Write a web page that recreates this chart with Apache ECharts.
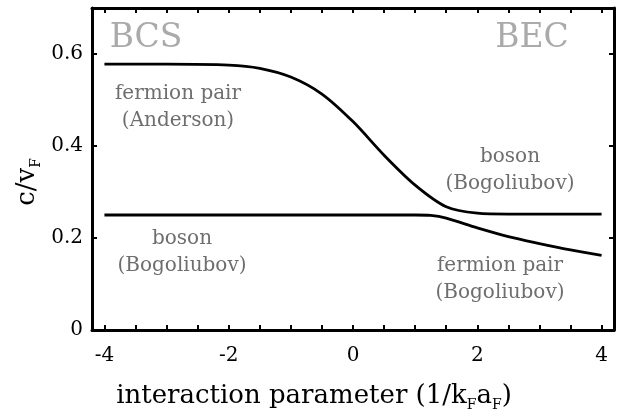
<!DOCTYPE html>
<html>
<head>
<meta charset="utf-8">
<script src="https://cdn.jsdelivr.net/npm/echarts@6/dist/echarts.min.js"></script>
<style>
  html, body { margin: 0; padding: 0; background: #fff; }
  #chart { width: 634px; height: 418px; }
</style>
</head>
<body>
<div id="chart"></div>
<script>
// upper branch: fermion pair (Anderson) -> boson (Bogoliubov)
const upperX = [-4, -3, -2, -1.5, -1, -0.5, 0, 0.5, 1, 1.5, 2, 2.5, 3, 4];
const upperY = [0.578, 0.578, 0.576, 0.569, 0.55, 0.513, 0.453, 0.38, 0.315, 0.268, 0.254, 0.252, 0.252, 0.252];
// lower branch: boson (Bogoliubov) -> fermion pair (Bogoliubov)
const lowerX = [-4, -2, 0, 1, 1.25, 1.5, 2, 2.5, 3, 3.5, 4];
const lowerY = [0.25, 0.25, 0.25, 0.25, 0.249, 0.243, 0.222, 0.203, 0.188, 0.174, 0.162];

const xTicks = [-4, -3.5, -3, -2.5, -2, -1.5, -1, -0.5, 0, 0.5, 1, 1.5, 2, 2.5, 3, 3.5, 4];
const xLabels = [-4, -2, 0, 2, 4];
const yTicks = [0.2, 0.4, 0.6];
const yLabels = [0, 0.2, 0.4, 0.6];

const serif = 'DejaVu Serif';
const zip = (xs, ys) => xs.map((x, i) => [x, ys[i]]);

const chart = echarts.init(document.getElementById('chart'));

const frameLine = { show: true, onZero: false, lineStyle: { color: '#000', width: 3 } };
const tick = vals => ({ show: true, inside: true, length: 5, customValues: vals, lineStyle: { color: '#000', width: 2 } });

const note = (text, x, y) => ({
    type: 'text', x: x, y: y,
    style: { text: text, fill: '#6e6e6e', fontSize: 20, fontFamily: serif, align: 'center', verticalAlign: 'middle', lineHeight: 27 }
});
const big = (text, x, y) => ({
    type: 'text', x: x, y: y,
    style: { text: text, fill: '#aaaaaa', fontSize: 33, fontFamily: serif, align: 'center', verticalAlign: 'middle' }
});

const options = {
    animation: false,
    grid: { left: 92, right: 20, top: 8, bottom: 88 },
    xAxis: [
        {
            type: 'value', min: -4.2, max: 4.2, position: 'bottom',
            axisLine: frameLine,
            axisTick: tick(xTicks),
            axisLabel: {
                customValues: xLabels, margin: 16,
                color: '#000', fontSize: 20, fontFamily: serif,
                formatter: v => String(v)
            },
            splitLine: { show: false }
        },
        {
            type: 'value', min: -4.2, max: 4.2, position: 'top',
            axisLine: frameLine,
            axisTick: tick(xTicks),
            axisLabel: { show: false },
            splitLine: { show: false }
        }
    ],
    yAxis: [
        {
            type: 'value', min: 0, max: 0.7, position: 'left',
            axisLine: frameLine,
            axisTick: tick(yTicks),
            axisLabel: {
                customValues: yLabels, margin: 9,
                color: '#000', fontSize: 20, fontFamily: serif,
                formatter: v => (v === 0 ? '0' : v.toFixed(1))
            },
            splitLine: { show: false }
        },
        {
            type: 'value', min: 0, max: 0.7, position: 'right',
            axisLine: frameLine,
            axisTick: tick(yTicks),
            axisLabel: { show: false },
            splitLine: { show: false }
        }
    ],
    series: [
        {
            type: 'line', data: zip(upperX, upperY), smooth: 0.3, showSymbol: false,
            lineStyle: { color: '#000', width: 2.8 }
        },
        {
            type: 'line', data: zip(lowerX, lowerY), smooth: 0.3, showSymbol: false,
            lineStyle: { color: '#000', width: 2.8 }
        }
    ],
    graphic: [
        big('BCS', 146, 38),
        big('BEC', 532, 38),
        note('fermion pair\n(Anderson)', 178, 107),
        note('boson\n(Bogoliubov)', 510, 170),
        note('boson\n(Bogoliubov)', 182, 252),
        note('fermion pair\n(Bogoliubov)', 500, 279),
        {
            type: 'text', x: 314, y: 396,
            style: {
                text: 'interaction parameter (1/k{s|F}a{s|F})',
                fill: '#000', fontSize: 26, fontFamily: serif,
                align: 'center', verticalAlign: 'middle', lineHeight: 32,
                rich: { s: { fontSize: 14, fontFamily: serif, fill: '#000', lineHeight: 14, verticalAlign: 'bottom' } }
            }
        },
        {
            type: 'text', x: 27, y: 182, rotation: Math.PI / 2,
            style: {
                text: 'c/v{s|F}',
                fill: '#000', fontSize: 26, fontFamily: serif,
                align: 'center', verticalAlign: 'middle', lineHeight: 32,
                rich: { s: { fontSize: 14, fontFamily: serif, fill: '#000', lineHeight: 14, verticalAlign: 'bottom' } }
            }
        }
    ]
};

window.onresize = () => {
    chart.resize();
};
chart.setOption(options);
</script>
</body>
</html>
